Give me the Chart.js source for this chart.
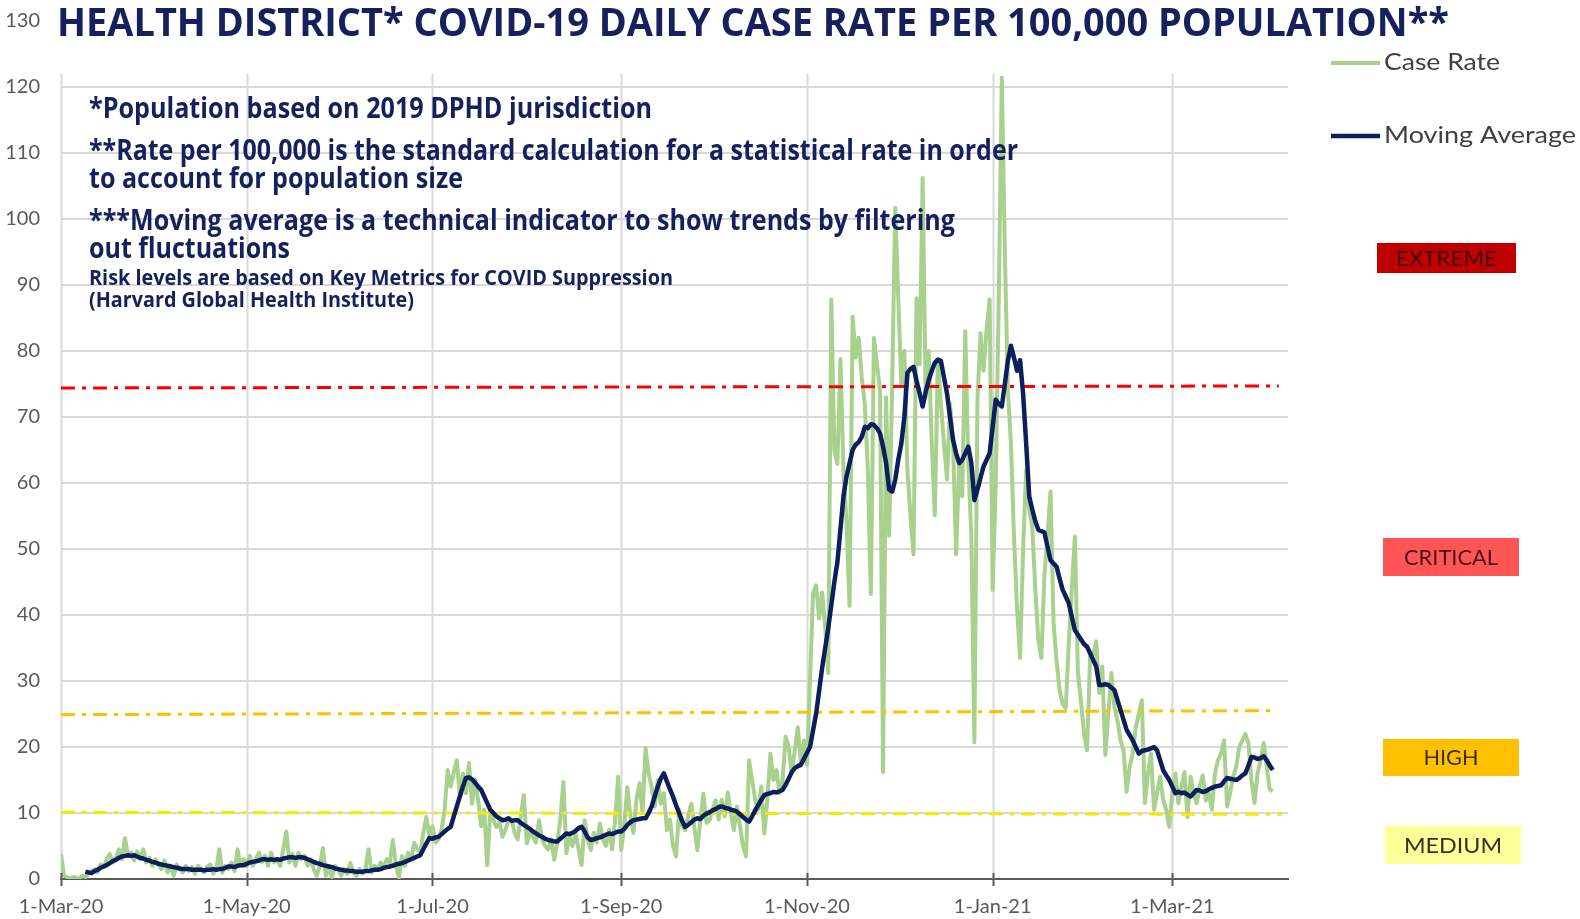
<!DOCTYPE html>
<html>
<head>
<meta charset="utf-8">
<title>Health District COVID-19 Daily Case Rate</title>
<script src="https://cdn.jsdelivr.net/npm/chart.js@4.4.1/dist/chart.umd.min.js"></script>
<style>
  html, body { margin: 0; padding: 0; background: #fff; }
  #wrap { width: 1580px; height: 919px; position: relative; }
</style>
</head>
<body>
<div id="wrap"><canvas id="caseChart" width="1580" height="919"></canvas></div>
<script>
// Daily values, one per day starting 1-Mar-20 (day 0) through 3-Apr-21 (day 398)

const tickDays = [0, 61, 122, 184, 245, 306, 365];
const tickLabels = ['1-Mar-20', '1-May-20', '1-Jul-20', '1-Sep-20', '1-Nov-20', '1-Jan-21', '1-Mar-21'];

const caseRate = [
    3.8, 0.5, 0.3, 0, 0.3, 0.2, 0, 0.5, 0.3, 0.8,              // 0
    1.2, 1.5, 1.0, 2.2, 1.8, 3.0, 3.8, 2.5, 3.2, 4.5,          // 10
    3.0, 6.2, 3.5, 4.0, 2.8, 4.2, 3.0, 4.5, 2.5, 3.2,          // 20
    2.0, 3.0, 2.2, 1.5, 2.8, 1.0, 2.0, 0.5, 2.2, 1.5,          // 30
    1.0, 2.0, 1.2, 1.8, 0.8, 2.0, 1.5, 1.0, 1.8, 2.2,          // 40
    0.8, 1.5, 4.5, 1.0, 2.0, 1.5, 2.5, 1.2, 4.5, 2.0,          // 50
    3.0, 2.0, 3.5, 2.0, 3.0, 4.0, 2.5, 3.5, 2.0, 4.0,          // 60
    2.5, 3.0, 2.0, 4.5, 7.2, 2.5, 3.8, 2.0, 4.0, 3.0,          // 70
    3.5, 2.0, 3.0, 1.5, 0.5, 2.0, 4.7, 0.5, 1.5, 0.3,          // 80
    2.0, 1.5, 0.5, 1.5, 0.8, 2.4, 1.0, 0.5, 1.5, 0.8,          // 90
    1.5, 4.5, 1.0, 2.0, 1.5, 2.5, 1.8, 3.0, 2.5, 5.9,          // 100
    2.0, 0.2, 3.5, 2.0, 4.0, 3.0, 5.5, 4.5, 4.0, 7.0,          // 110
    9.4, 6.5, 8.0, 5.5, 6.0, 7.5, 10.5, 16.5, 14.0, 16.2,      // 120
    18.0, 12.6, 16.0, 13.0, 17.6, 11.4, 15.0, 12.0, 8.0, 10.5, // 130
    2.1, 10.5, 9.0, 7.9, 8.5, 6.4, 7.5, 9.0, 8.9, 7.0,         // 140
    6.0, 9.5, 12.7, 5.4, 7.0, 6.4, 5.5, 8.9, 6.0, 5.0,         // 150
    4.5, 6.0, 2.9, 5.5, 9.0, 14.7, 3.9, 6.5, 5.0, 6.9,         // 160
    4.5, 2.1, 8.9, 6.0, 4.4, 7.0, 5.5, 8.4, 6.0, 5.0,          // 170
    7.5, 4.5, 9.0, 15.5, 4.4, 8.0, 13.9, 9.5, 7.0, 12.0,       // 180
    14.5, 10.0, 19.8, 16.0, 13.9, 11.0, 15.0, 11.4, 13.0, 7.4, // 190
    9.0, 5.0, 3.4, 10.5, 8.0, 7.4, 9.5, 11.4, 8.0, 4.4,        // 200
    9.0, 12.9, 8.5, 8.9, 10.5, 11.9, 9.0, 12.0, 9.5, 13.1,     // 210
    10.0, 7.4, 11.0, 8.0, 5.0, 3.4, 18.0, 15.0, 12.0, 10.5,    // 220
    14.0, 6.9, 12.0, 19.0, 15.0, 16.5, 13.0, 15.0, 21.6, 20.0, // 230
    16.0, 19.5, 23.0, 17.6, 21.0, 17.3, 30.0, 43.3, 44.5, 39.5, // 240
    43.4, 38.0, 31.2, 87.8, 65.0, 62.9, 78.8, 62.0, 54.0, 41.4, // 250
    85.2, 79.0, 82.0, 76.0, 72.0, 62.0, 43.2, 82.0, 78.0, 74.0, // 260
    16.2, 73.0, 52.0, 75.0, 101.7, 88.0, 75.0, 80.0, 62.0, 55.0, // 270
    49.2, 88.0, 78.0, 106.2, 73.0, 80.0, 66.0, 55.1, 78.5, 72.0, // 280
    66.0, 60.5, 72.0, 66.0, 49.2, 63.0, 58.0, 83.0, 63.0, 52.0, // 290
    20.7, 72.6, 82.7, 77.0, 83.3, 87.8, 43.8, 60.0, 88.0, 121.4, // 300
    95.0, 74.0, 66.0, 52.0, 41.0, 33.5, 50.0, 62.0, 56.0, 53.4, // 310
    44.0, 36.2, 33.5, 46.0, 52.0, 58.7, 38.8, 33.0, 28.6, 26.5, // 320
    25.9, 35.7, 44.0, 51.9, 31.2, 27.0, 22.0, 19.5, 33.7, 34.0, // 330
    36.0, 28.2, 32.2, 18.8, 25.0, 31.2, 26.0, 24.0, 21.0, 19.5, // 340
    13.2, 17.0, 19.0, 23.0, 25.0, 27.1, 11.5, 16.0, 19.0, 10.5, // 350
    13.0, 15.5, 12.0, 10.5, 7.9, 13.0, 16.0, 11.5, 14.0, 16.2,  // 360
    9.4, 15.5, 13.0, 11.5, 14.0, 15.7, 11.9, 13.0, 10.5, 16.0,  // 370
    18.0, 19.0, 21.0, 11.0, 13.0, 15.5, 17.0, 20.0, 21.0, 22.0, // 380
    20.6, 15.0, 11.5, 16.0, 18.0, 20.6, 17.0, 13.6, 13.3        // 390
];

const movingAvg = [
    null, null, null, null, null, null, null, null, 1.1, 1.0,   // 0
    0.9, 1.2, 1.4, 1.7, 1.9, 2.1, 2.4, 2.7, 2.9, 3.2,          // 10
    3.4, 3.5, 3.6, 3.5, 3.6, 3.4, 3.2, 3.1, 2.9, 2.8,          // 20
    2.6, 2.5, 2.3, 2.2, 2.1, 2.0, 1.9, 1.8, 1.7, 1.6,          // 30
    1.5, 1.5, 1.5, 1.4, 1.4, 1.4, 1.4, 1.3, 1.4, 1.4,          // 40
    1.5, 1.4, 1.5, 1.5, 1.7, 1.9, 1.9, 1.8, 2.0, 2.1,          // 50
    2.1, 2.3, 2.5, 2.6, 2.7, 2.8, 3.0, 3.0, 2.9, 3.0,          // 60
    2.9, 3.0, 2.9, 3.1, 3.2, 3.3, 3.3, 3.2, 3.3, 3.3,          // 70
    3.2, 3.0, 2.8, 2.6, 2.4, 2.3, 2.1, 2.0, 1.9, 1.8,          // 80
    1.6, 1.5, 1.4, 1.3, 1.3, 1.2, 1.2, 1.1, 1.1, 1.1,          // 90
    1.2, 1.2, 1.3, 1.4, 1.4, 1.5, 1.7, 1.8, 1.9, 2.0,          // 100
    2.2, 2.3, 2.4, 2.6, 2.8, 3.0, 3.2, 3.4, 3.6, 4.5,          // 110
    5.4, 6.2, 6.1, 6.3, 6.4, 6.8, 7.2, 7.6, 7.9, 9.5,          // 120
    11.0, 12.5, 14.0, 15.3, 15.4, 15.1, 14.6, 14.0, 13.5, 12.5, // 130
    11.5, 10.5, 10.0, 9.5, 9.2, 8.9, 9.0, 9.2, 8.8, 8.9,       // 140
    8.9, 8.5, 8.2, 7.9, 7.6, 7.2, 6.9, 6.6, 6.4, 6.1,          // 150
    5.9, 5.8, 5.7, 5.7, 6.1, 6.5, 6.9, 6.8, 7.0, 7.3,          // 160
    7.7, 7.9, 7.2, 6.3, 5.9, 6.0, 6.2, 6.3, 6.5, 6.7,          // 170
    6.9, 6.8, 7.0, 7.2, 7.2, 7.6, 8.2, 8.6, 8.9, 9.0,          // 180
    9.1, 9.2, 9.2, 10.0, 11.0, 12.5, 14.0, 15.2, 16.0, 14.8,   // 190
    13.6, 12.5, 11.2, 10.0, 8.8, 7.9, 8.2, 8.6, 9.0, 9.2,      // 200
    9.1, 9.6, 9.9, 10.1, 10.4, 10.6, 10.9, 11.0, 10.8, 10.7,   // 210
    10.5, 10.4, 10.2, 9.8, 9.4, 9.0, 8.7, 9.5, 10.4, 11.2,     // 220
    12.0, 12.7, 12.9, 13.0, 13.2, 13.1, 13.3, 13.5, 14.3, 15.2, // 230
    16.2, 16.8, 17.1, 17.3, 18.2, 19.1, 20.0, 22.5, 25.0, 28.5, // 240
    32.0, 35.0, 38.0, 41.5, 45.0, 48.0, 53.0, 58.0, 61.0, 63.0, // 250
    65.0, 65.8, 66.2, 67.0, 68.5, 68.3, 68.9, 68.8, 68.3, 67.5, // 260
    65.5, 63.0, 59.0, 58.7, 60.5, 63.5, 66.0, 70.0, 76.7, 77.3, // 270
    77.6, 75.5, 73.6, 71.6, 73.8, 75.6, 77.0, 78.2, 78.7, 78.5, // 280
    76.0, 73.6, 70.0, 66.5, 64.5, 63.0, 63.5, 64.5, 65.5, 63.0, // 290
    57.4, 59.0, 60.8, 62.5, 63.5, 64.5, 68.5, 72.6, 72.0, 71.6, // 300
    75.0, 78.5, 80.8, 79.0, 77.0, 78.6, 73.5, 66.0, 58.0, 56.0, // 310
    54.2, 52.9, 52.7, 52.5, 50.4, 48.3, 47.8, 47.3, 45.5, 43.8, // 320
    42.8, 41.8, 39.7, 37.7, 37.0, 36.3, 35.6, 35.2, 34.2, 33.2, // 330
    32.2, 29.4, 29.4, 29.5, 29.4, 29.0, 28.6, 27.1, 25.6, 24.1, // 340
    22.6, 21.8, 21.0, 20.0, 19.0, 19.4, 19.5, 19.6, 19.8, 20.0, // 350
    19.5, 18.0, 16.5, 15.7, 15.0, 14.0, 13.0, 13.2, 13.0, 13.1, // 360
    12.8, 12.5, 13.0, 13.5, 13.4, 13.2, 13.3, 13.6, 13.8, 14.0, // 370
    14.1, 14.2, 14.8, 15.3, 15.2, 15.1, 15.0, 15.3, 15.7, 16.0, // 380
    17.2, 18.5, 18.4, 18.2, 18.3, 18.6, 18.0, 17.2, 16.5        // 390
];

// risk threshold lines (start / end day and level)
const extremeDays = [0, 400];
const extremeLevel = [74.4, 74.7];
const criticalDays = [0, 398];
const criticalLevel = [24.9, 25.5];
const highDays = [0, 401];
const highLevel = [10.1, 9.8];

const riskLabels = ['EXTREME', 'CRITICAL', 'HIGH', 'MEDIUM'];

const titleText = 'HEALTH DISTRICT* COVID-19 DAILY CASE RATE PER 100,000 POPULATION**';
const noteLines = [
    '*Population based on 2019 DPHD jurisdiction',
    '**Rate per 100,000 is the standard calculation for a statistical rate in order',
    'to account for population size',
    '***Moving average is a technical indicator to show trends by filtering',
    'out fluctuations',
    'Risk levels are based on Key Metrics for COVID Suppression',
    '(Harvard Global Health Institute)'
];

const NAVY = '#0c1f5c';
const GREEN = '#a9d18e';
const AXIS_GRAY = '#595959';

function pts(days, vals) {
    return vals.map((v, i) => ({ x: days ? days[i] : i, y: v }));
}

// draw text squeezed/stretched to a given width (the original uses a narrow face)
function fitText(ctx, text, x, y, width) {
    const w = ctx.measureText(text).width;
    ctx.save();
    ctx.translate(x, y);
    ctx.scale(width / w, 1);
    ctx.fillText(text, 0, 0);
    ctx.restore();
}

const decorPlugin = {
    id: 'decor',
    beforeDatasetsDraw(chart) {
        const { ctx, chartArea } = chart;
        const xs = chart.scales.x, ys = chart.scales.y;
        ctx.save();
        ctx.strokeStyle = '#d9d9d9';
        ctx.lineWidth = 2;
        const top = ys.getPixelForValue(122);
        tickDays.forEach(d => {
            const px = Math.round(xs.getPixelForValue(d)) + 0.5;
            ctx.beginPath();
            ctx.moveTo(px, top);
            ctx.lineTo(px, chartArea.bottom);
            ctx.stroke();
        });
        ctx.restore();
    },
    afterDraw(chart) {
        const { ctx, chartArea } = chart;
        const xs = chart.scales.x;
        ctx.save();

        // tick marks crossing the date axis
        ctx.strokeStyle = AXIS_GRAY;
        ctx.lineWidth = 2;
        tickDays.forEach(d => {
            const px = Math.round(xs.getPixelForValue(d)) + 0.5;
            ctx.beginPath();
            ctx.moveTo(px, chartArea.bottom - 6);
            ctx.lineTo(px, chartArea.bottom + 7);
            ctx.stroke();
        });

        // title
        ctx.fillStyle = '#15205c';
        ctx.textBaseline = 'alphabetic';
        ctx.font = 'bold 40px "Open Sans"';
        fitText(ctx, titleText, 57, 36, 1392);

        // notes
        const noteSpec = [
            [29, 118, 563], [29, 160, 929], [29, 188, 374], [29, 230, 866],
            [29, 258, 201], [22, 285, 584], [22, 307, 325]
        ];
        noteLines.forEach((t, i) => {
            const [size, y, w] = noteSpec[i];
            ctx.font = 'bold ' + size + 'px "Open Sans"';
            fitText(ctx, t, 89, y, w);
        });

        // legend
        ctx.lineWidth = 4;
        ctx.strokeStyle = GREEN;
        ctx.beginPath(); ctx.moveTo(1331, 63); ctx.lineTo(1380, 63); ctx.stroke();
        ctx.strokeStyle = NAVY;
        ctx.lineWidth = 4.5;
        ctx.beginPath(); ctx.moveTo(1331, 136); ctx.lineTo(1380, 136); ctx.stroke();
        ctx.fillStyle = '#404040';
        ctx.font = '23px Lato';
        ctx.textBaseline = 'middle';
        fitText(ctx, 'Case Rate', 1384, 63, 116);
        fitText(ctx, 'Moving Average', 1384, 136, 192);

        // risk level boxes
        const boxes = [
            { x: 1377, y: 243, w: 139, h: 30, fill: '#c00000', ink: '#3d0808', tw: 101 },
            { x: 1383, y: 538, w: 136, h: 38, fill: '#ff5555', ink: '#4a1414', tw: 94 },
            { x: 1383, y: 739, w: 136, h: 37, fill: '#ffc000', ink: '#3b3000', tw: 55 },
            { x: 1385, y: 826, w: 136, h: 38, fill: '#ffff99', ink: '#33331f', tw: 98 }
        ];
        ctx.font = '21px Lato';
        boxes.forEach((b, i) => {
            ctx.fillStyle = b.fill;
            ctx.fillRect(b.x, b.y, b.w, b.h);
            ctx.fillStyle = b.ink;
            fitText(ctx, riskLabels[i], b.x + (b.w - b.tw) / 2, b.y + b.h / 2 + 1, b.tw);
        });
        ctx.restore();
    }
};

const tickFont = { family: 'Lato', size: 20 };

new Chart(document.getElementById('caseChart'), {
    type: 'line',
    data: {
        datasets: [
            {
                label: 'Moving Average',
                data: pts(null, movingAvg),
                borderColor: NAVY,
                borderWidth: 4.5,
                pointRadius: 0,
                borderJoinStyle: 'round',
                order: 0,
            },
            {
                label: 'Extreme',
                data: pts(extremeDays, extremeLevel),
                borderColor: '#ff0000',
                borderWidth: 3,
                borderDash: [14, 7, 4, 7],
                pointRadius: 0,
                order: 1,
            },
            {
                label: 'Critical',
                data: pts(criticalDays, criticalLevel),
                borderColor: '#ffc000',
                borderWidth: 3,
                borderDash: [14, 7, 4, 7],
                pointRadius: 0,
                order: 1,
            },
            {
                label: 'High',
                data: pts(highDays, highLevel),
                borderColor: '#f5e900',
                borderWidth: 3,
                borderDash: [14, 7, 4, 7],
                pointRadius: 0,
                order: 1,
            },
            {
                label: 'Case Rate',
                data: pts(null, caseRate),
                borderColor: GREEN,
                borderWidth: 4,
                pointRadius: 0,
                borderJoinStyle: 'round',
                order: 2,
            },
        ],
    },
    options: {
        responsive: false,
        animation: false,
        layout: { padding: { left: 0, top: 21, right: 292, bottom: 0 } },
        plugins: {
            legend: { display: false },
            tooltip: { enabled: false },
        },
        scales: {
            x: {
                type: 'linear',
                min: 0,
                max: 403,
                afterBuildTicks: s => { s.ticks = tickDays.map(v => ({ value: v })); },
                afterFit: s => { s.height = 40; },
                grid: { display: false },
                border: { display: true, color: AXIS_GRAY, width: 2 },
                ticks: {
                    autoSkip: false,
                    maxRotation: 0,
                    padding: 8,
                    color: AXIS_GRAY,
                    font: tickFont,
                    callback: (v, i) => tickLabels[i],
                },
            },
            y: {
                min: 0,
                max: 130,
                afterFit: s => { s.width = 61; s.paddingTop = 0; s.paddingBottom = 0; },
                border: { display: false },
                grid: {
                    color: c => (c.tick && c.tick.value >= 130 ? 'rgba(0,0,0,0)' : '#d9d9d9'),
                    lineWidth: 2,
                    drawTicks: false,
                },
                ticks: { stepSize: 10, padding: 21, color: AXIS_GRAY, font: tickFont },
            },
        },
    },
    plugins: [decorPlugin],
});
</script>
</body>
</html>
